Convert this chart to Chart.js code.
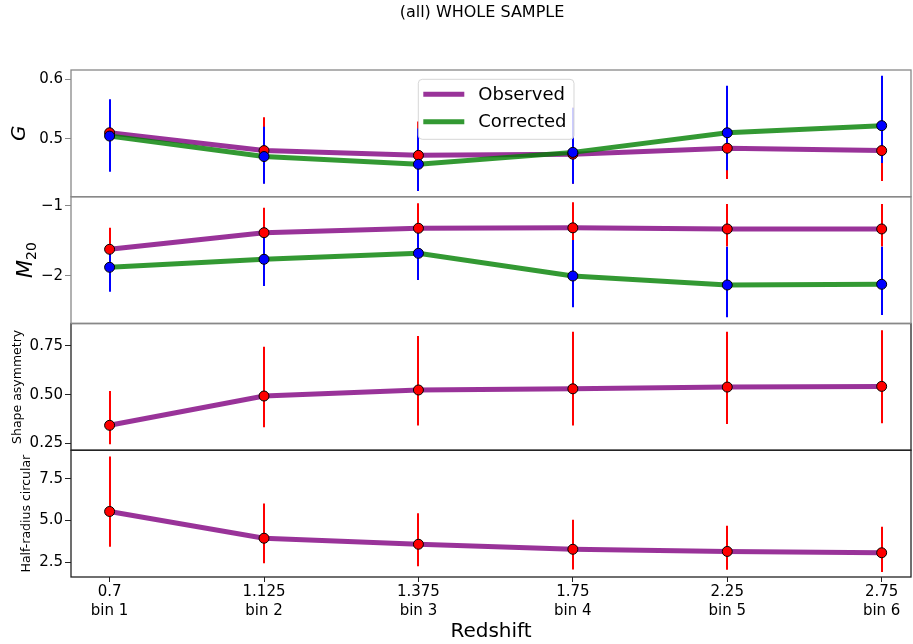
<!DOCTYPE html>
<html>
<head>
<meta charset="utf-8">
<title>(all) WHOLE SAMPLE</title>
<script src="https://cdn.jsdelivr.net/npm/chart.js@4.4.1/dist/chart.umd.min.js"></script>
<style>
  html, body { margin: 0; padding: 0; background: #ffffff; overflow: hidden; }
  #wrap { width: 913px; height: 644px; overflow: hidden; }
  canvas { display: block; }
</style>
</head>
<body>
<!-- canvas is a few px wider than the page: Chart.js keeps ~6px free for point overflow on the right -->
<div id="wrap"><canvas id="morphChart" width="917" height="644"></canvas></div>
<script>
// --- Morphology parameters vs redshift bin (whole sample) ---

// x positions are bin indices, labelled with redshift + bin name
const BIN_INDEX = [0, 1, 2, 3, 4, 5];
const Z_LABELS = ['0.7', '1.125', '1.375', '1.75', '2.25', '2.75'];
const BIN_LABELS = ['bin 1', 'bin 2', 'bin 3', 'bin 4', 'bin 5', 'bin 6'];

// Gini (G)
const G_OBS = [0.510, 0.480, 0.472, 0.474, 0.484, 0.480];
const G_OBS_LO = [0.055, 0.055, 0.056, 0.050, 0.052, 0.051];
const G_OBS_HI = [0.050, 0.056, 0.057, 0.078, 0.060, 0.060];
const G_COR = [0.5045, 0.470, 0.457, 0.477, 0.510, 0.522];
const G_COR_LO = [0.060, 0.046, 0.045, 0.053, 0.063, 0.063];
const G_COR_HI = [0.062, 0.050, 0.060, 0.075, 0.079, 0.084];

// M20
const M20_OBS = [-1.620, -1.384, -1.321, -1.315, -1.331, -1.331];
const M20_OBS_LO = [0.25, 0.26, 0.25, 0.25, 0.25, 0.25];
const M20_OBS_HI = [0.307, 0.356, 0.356, 0.364, 0.356, 0.356];
const M20_COR = [-1.876, -1.762, -1.677, -2.000, -2.128, -2.118];
const M20_COR_LO = [0.347, 0.380, 0.380, 0.445, 0.460, 0.437];
const M20_COR_HI = [0.300, 0.303, 0.285, 0.512, 0.545, 0.535];

// shape asymmetry
const ASYM_OBS = [0.3425, 0.493, 0.524, 0.530, 0.539, 0.5425];
const ASYM_OBS_LO = [0.098, 0.161, 0.183, 0.188, 0.190, 0.190];
const ASYM_OBS_HI = [0.176, 0.253, 0.277, 0.293, 0.284, 0.289];

// half-light radius (circular)
const HALF_R_OBS = [5.54, 3.94, 3.58, 3.28, 3.15, 3.07];
const HALF_R_OBS_LO = [2.11, 1.49, 1.31, 1.21, 1.09, 1.15];
const HALF_R_OBS_HI = [3.29, 2.07, 1.85, 1.77, 1.54, 1.55];

// y ticks per panel
const G_TICKS = [0.5, 0.6];
const G_TICK_LABELS = ['0.5', '0.6'];
const M20_TICKS = [-2, -1];
const M20_TICK_LABELS = ['\u22122', '\u22121'];
const ASYM_TICKS = [0.25, 0.5, 0.75];
const ASYM_TICK_LABELS = ['0.25', '0.50', '0.75'];
const HALF_R_TICKS = [2.5, 5, 7.5];
const HALF_R_TICK_LABELS = ['2.5', '5.0', '7.5'];

const OBS_LINE = 'rgba(128, 0, 128, 0.8)';
const COR_LINE = 'rgba(0, 128, 0, 0.8)';

Chart.defaults.font.family = '"DejaVu Sans", sans-serif';
Chart.defaults.color = '#000';

function toPoints(ys) {
    return BIN_INDEX.map((x, i) => ({ x: x, y: ys[i] }));
}

// thick connecting line, no markers
function lineSet(label, ys, axis, color, order) {
    return {
        label: label, data: toPoints(ys), yAxisID: axis,
        borderColor: color, borderWidth: 5, pointRadius: 0, pointHoverRadius: 0,
        fill: false, tension: 0, order: order
    };
}

// round markers, error bars are drawn by the plugin below
function markerSet(ys, lo, hi, axis, fillColor, barColor, order) {
    return {
        data: toPoints(ys), yAxisID: axis, showLine: false,
        pointRadius: 5, pointHoverRadius: 5, pointBackgroundColor: fillColor,
        pointBorderColor: '#000', pointBorderWidth: 1,
        errLo: lo, errHi: hi, barColor: barColor, isMarker: true, order: order
    };
}

function panelAxis(min, max, ticks, labels, title, titleSize, titlePad, italic, edgeColor) {
    return {
        type: 'linear', position: 'left', stack: 'panels', stackWeight: 1,
        min: min, max: max,
        afterBuildTicks: s => { s.ticks = ticks.map(v => ({ value: v })); },
        afterFit: s => {
            s.width = 71;
            s.paddingTop = 0; s.paddingBottom = 0; s.paddingLeft = 0; s.paddingRight = 0;
        },
        ticks: { font: { size: 15 }, color: '#000', padding: 2, callback: (v, i) => labels[i] },
        grid: { drawOnChartArea: false, drawTicks: true, tickLength: 6, color: edgeColor },
        border: { display: false },
        title: {
            display: !!title, text: title || '', color: '#000',
            font: { size: titleSize, style: italic ? 'italic' : 'normal', lineHeight: 1 },
            padding: { top: titlePad, bottom: 0 }
        },
        edgeColor: edgeColor
    };
}

// error bars: all bars go on top of the lines but under the markers
let barsDrawn = false;
const errorBarPlugin = {
    id: 'errorBars',
    beforeDatasetsDraw() { barsDrawn = false; },
    beforeDatasetDraw(chart, args) {
        const ds = chart.data.datasets[args.index];
        if (!ds.isMarker || barsDrawn) return;
        barsDrawn = true;
        const ctx = chart.ctx;
        const xs = chart.scales.x;
        chart.data.datasets.filter(d => d.isMarker)
            .sort((a, b) => b.order - a.order)
            .forEach(d => {
                const ys = chart.scales[d.yAxisID];
                ctx.save();
                ctx.strokeStyle = d.barColor;
                ctx.lineWidth = 2;
                d.data.forEach((p, i) => {
                    // snap to whole pixels so the blue bar fully covers the red one
                    const px = Math.round(xs.getPixelForValue(p.x));
                    ctx.beginPath();
                    ctx.moveTo(px, ys.getPixelForValue(p.y - d.errLo[i]));
                    ctx.lineTo(px, ys.getPixelForValue(p.y + d.errHi[i]));
                    ctx.stroke();
                });
                ctx.restore();
            });
    }
};

// panel frames, legend box in the top panel, M20 label and the figure title
const decorPlugin = {
    id: 'decor',
    afterDatasetsDraw(chart) {
        const ctx = chart.ctx;
        const area = chart.chartArea;
        // bottom panels first so the grey frame of the top pair stays on the shared edge
        ['yHalf', 'yAsym', 'yM20', 'yG'].forEach(id => {
            const s = chart.scales[id];
            ctx.save();
            ctx.strokeStyle = s.options.edgeColor;
            ctx.lineWidth = 1.3;
            ctx.strokeRect(area.left, s.top, area.right - area.left, s.bottom - s.top);
            ctx.restore();
        });

        // legend
        const g = chart.scales.yG;
        const lx = area.left + 347.3, ly = g.top + 9.3, lw = 155.7, lh = 60, r = 4;
        ctx.save();
        ctx.beginPath();
        ctx.moveTo(lx + r, ly);
        ctx.lineTo(lx + lw - r, ly);
        ctx.arcTo(lx + lw, ly, lx + lw, ly + r, r);
        ctx.lineTo(lx + lw, ly + lh - r);
        ctx.arcTo(lx + lw, ly + lh, lx + lw - r, ly + lh, r);
        ctx.lineTo(lx + r, ly + lh);
        ctx.arcTo(lx, ly + lh, lx, ly + lh - r, r);
        ctx.lineTo(lx, ly + r);
        ctx.arcTo(lx, ly, lx + r, ly, r);
        ctx.closePath();
        ctx.fillStyle = 'rgba(255, 255, 255, 0.8)';
        ctx.fill();
        ctx.strokeStyle = 'rgba(204, 204, 204, 0.8)';
        ctx.lineWidth = 1;
        ctx.stroke();

        const entries = [
            { label: 'Observed', color: OBS_LINE },
            { label: 'Corrected', color: COR_LINE }
        ];
        ctx.font = '18px "DejaVu Sans"';
        ctx.textBaseline = 'middle';
        ctx.textAlign = 'left';
        entries.forEach((e, i) => {
            const cy = ly + 15 + i * 27.4;
            ctx.strokeStyle = e.color;
            ctx.lineWidth = 5;
            ctx.beginPath();
            ctx.moveTo(lx + 5, cy);
            ctx.lineTo(lx + 46, cy);
            ctx.stroke();
            ctx.fillStyle = '#000';
            ctx.fillText(e.label, lx + 60, cy + 1);
        });
        ctx.restore();
    },
    afterDraw(chart) {
        const ctx = chart.ctx;
        ctx.save();
        ctx.font = '16px "DejaVu Sans"';
        ctx.fillStyle = '#000';
        ctx.textAlign = 'center';
        ctx.textBaseline = 'alphabetic';
        ctx.fillText('(all) WHOLE SAMPLE', 482, 16.7);
        ctx.restore();

        // M_20 axis label: italic M with an upright subscript, rotated like the others
        const m = chart.scales.yM20;
        const cy = (m.top + m.bottom) / 2;
        ctx.save();
        ctx.translate(32, cy);
        ctx.rotate(-Math.PI / 2);
        ctx.fillStyle = '#000';
        ctx.textBaseline = 'alphabetic';
        ctx.textAlign = 'left';
        ctx.font = 'italic 21px "DejaVu Sans"';
        const mw = ctx.measureText('M').width;
        ctx.font = '14px "DejaVu Sans"';
        const sw = ctx.measureText('20').width;
        const x0 = -(mw + sw) / 2;
        ctx.font = 'italic 21px "DejaVu Sans"';
        ctx.fillText('M', x0, 0);
        ctx.font = '14px "DejaVu Sans"';
        ctx.fillText('20', x0 + mw, 4);
        ctx.restore();
    }
};

const ctx = document.getElementById('morphChart').getContext('2d');
new Chart(ctx, {
    type: 'line',
    data: {
        datasets: [
            lineSet('Observed', G_OBS, 'yG', OBS_LINE, 4),
            lineSet('Corrected', G_COR, 'yG', COR_LINE, 3),
            markerSet(G_OBS, G_OBS_LO, G_OBS_HI, 'yG', '#ff0000', '#ff0000', 2),
            markerSet(G_COR, G_COR_LO, G_COR_HI, 'yG', '#0000ff', '#0000ff', 1),

            lineSet('Observed', M20_OBS, 'yM20', OBS_LINE, 4),
            lineSet('Corrected', M20_COR, 'yM20', COR_LINE, 3),
            markerSet(M20_OBS, M20_OBS_LO, M20_OBS_HI, 'yM20', '#ff0000', '#ff0000', 2),
            markerSet(M20_COR, M20_COR_LO, M20_COR_HI, 'yM20', '#0000ff', '#0000ff', 1),

            lineSet('Observed', ASYM_OBS, 'yAsym', OBS_LINE, 4),
            markerSet(ASYM_OBS, ASYM_OBS_LO, ASYM_OBS_HI, 'yAsym', '#ff0000', '#ff0000', 2),

            lineSet('Observed', HALF_R_OBS, 'yHalf', OBS_LINE, 4),
            markerSet(HALF_R_OBS, HALF_R_OBS_LO, HALF_R_OBS_HI, 'yHalf', '#ff0000', '#ff0000', 2)
        ]
    },
    options: {
        responsive: false,
        animation: false,
        devicePixelRatio: 1,
        layout: { padding: { left: 0, right: 0, top: 70, bottom: 0 } },
        plugins: { legend: { display: false }, tooltip: { enabled: false } },
        scales: {
            x: {
                type: 'linear', position: 'bottom', min: -0.25, max: 5.19,
                afterBuildTicks: s => { s.ticks = BIN_INDEX.map(v => ({ value: v })); },
                afterFit: s => { s.height = 67; s.paddingLeft = 0; s.paddingRight = 0; },
                ticks: {
                    font: { size: 15, lineHeight: 1.25 }, color: '#000', padding: 1,
                    maxRotation: 0, autoSkip: false,
                    callback: (v, i) => [Z_LABELS[i], BIN_LABELS[i]]
                },
                grid: { drawOnChartArea: false, drawTicks: true, tickLength: 5, color: '#222' },
                border: { display: false },
                title: {
                    display: true, text: 'Redshift', color: '#000',
                    font: { size: 20, lineHeight: 1 }, padding: { top: 0, bottom: 2.6 }
                }
            },
            // stacked left axes are laid out bottom-up, so the lowest panel comes first
            yHalf: panelAxis(1.6213, 9.2006, HALF_R_TICKS, HALF_R_TICK_LABELS, 'Half-radius circular', 12.5, 20.5, false, '#222222'),
            yAsym: panelAxis(0.2143, 0.8656, ASYM_TICKS, ASYM_TICK_LABELS, 'Shape asymmetry', 12.5, 11, false, '#222222'),
            yM20: panelAxis(-2.6757, -0.8727, M20_TICKS, M20_TICK_LABELS, null, 20, 0, true, '#888888'),
            yG: panelAxis(0.4023, 0.6157, G_TICKS, G_TICK_LABELS, 'G', 20, 10, true, '#888888')
        }
    },
    plugins: [errorBarPlugin, decorPlugin]
});
</script>
</body>
</html>
